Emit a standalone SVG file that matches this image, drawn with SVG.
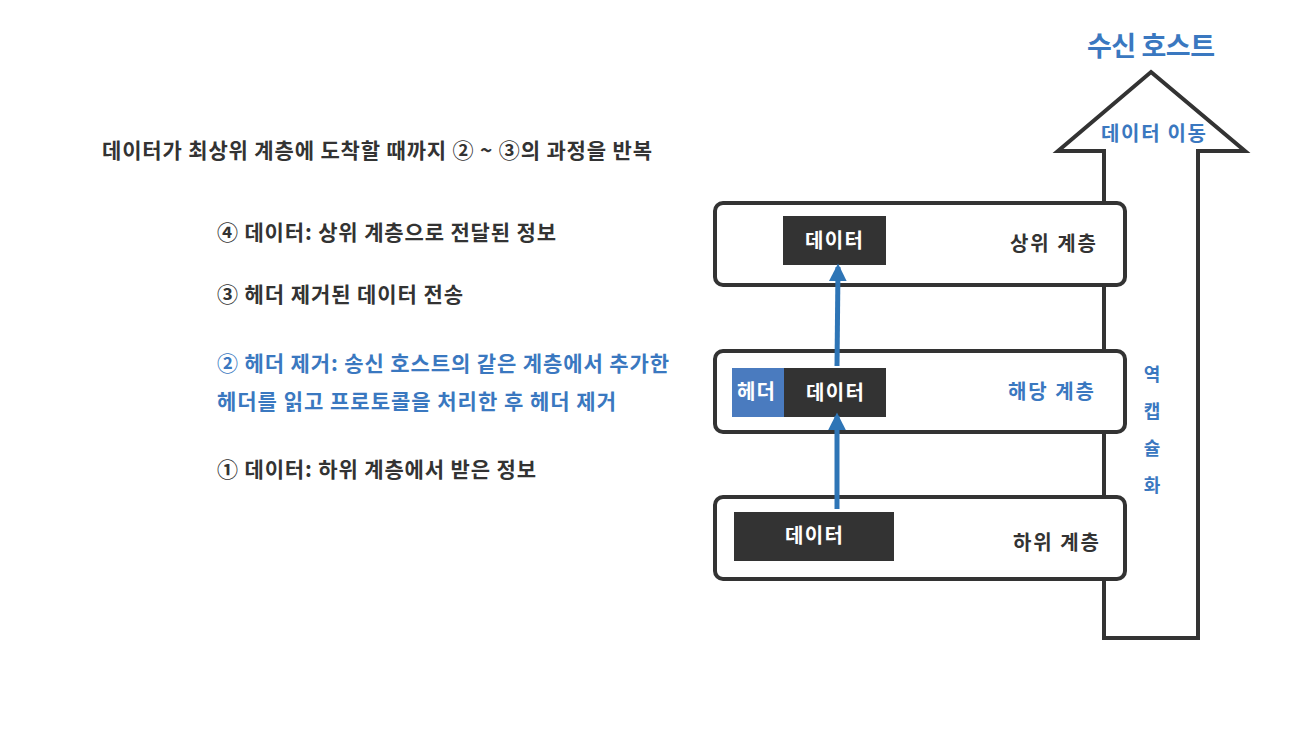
<svg xmlns="http://www.w3.org/2000/svg" width="1293" height="746" viewBox="0 0 1293 746">
<style>
text{font-family:"Noto Sans CJK KR","Noto Sans",sans-serif;font-weight:bold}
.dk{fill:#333333}
.bl{fill:#3a78c0}
.box{fill:#ffffff;stroke:#333333;stroke-width:4}
.w{fill:#ffffff}
.conn{stroke:#2e75b6;stroke-width:5;fill:none}
</style>
<defs>
<marker id="ah" viewBox="0 0 10 10" refX="8" refY="5" markerWidth="3.6" markerHeight="3.6" orient="auto" markerUnits="strokeWidth">
<path d="M0,0 L10,5 L0,10 z" fill="#2e75b6"/>
</marker>
</defs>
<rect width="1293" height="746" fill="#ffffff"/>
<g id="bigarrow">
<polygon points="1151,72 1245,151 1198,151 1198,638 1104,638 1104,151 1058,151" fill="#ffffff" stroke="#333333" stroke-width="4"/>
<text x="1087" y="56" font-size="27" textLength="128" lengthAdjust="spacing" class="bl">수신 호스트</text>
<text x="1101" y="141" font-size="20" textLength="105" lengthAdjust="spacing" class="bl">데이터 이동</text>
<g font-size="18" text-anchor="middle" class="bl">
<text x="1152" y="381">역</text>
<text x="1152" y="418">캡</text>
<text x="1152" y="455">슐</text>
<text x="1152" y="492">화</text>
</g>
</g>
<g id="upper">
<rect x="715" y="203" width="410" height="82" rx="8" class="box"/>
<rect x="783" y="216" width="103" height="49" fill="#333333"/>
<text x="805" y="248" font-size="20" textLength="58" lengthAdjust="spacing" class="w">데이터</text>
<text x="1010" y="251" font-size="20" textLength="86" lengthAdjust="spacing" class="dk">상위 계층</text>
</g>
<g id="current">
<rect x="715" y="351" width="410" height="81" rx="8" class="box"/>
<rect x="732" y="368" width="52" height="49" fill="#4a7bbf"/>
<rect x="784" y="368" width="102" height="49" fill="#333333"/>
<text x="737" y="399" font-size="20" textLength="38" lengthAdjust="spacing" class="w">헤더</text>
<text x="806" y="400" font-size="20" textLength="58" lengthAdjust="spacing" class="w">데이터</text>
<text x="1008" y="399" font-size="20" textLength="86" lengthAdjust="spacing" class="bl">해당 계층</text>
</g>
<g id="lower">
<rect x="715" y="497" width="410" height="82" rx="8" class="box"/>
<rect x="734" y="512" width="160" height="49" fill="#333333"/>
<text x="785" y="543" font-size="20" textLength="58" lengthAdjust="spacing" class="w">데이터</text>
<text x="1013" y="550" font-size="20" textLength="86" lengthAdjust="spacing" class="dk">하위 계층</text>
</g>
<g id="connectors">
<line x1="837" y1="509" x2="837" y2="416" class="conn" marker-end="url(#ah)"/>
<line x1="837" y1="366" x2="838" y2="267" class="conn" marker-end="url(#ah)"/>
</g>
<g id="notes" font-size="21">
<text x="102" y="158" textLength="550" lengthAdjust="spacing" class="dk">데이터가 최상위 계층에 도착할 때까지 ② ~ ③의 과정을 반복</text>
<text x="217" y="240" textLength="339" lengthAdjust="spacing" class="dk">④ 데이터: 상위 계층으로 전달된 정보</text>
<text x="217" y="302" textLength="246" lengthAdjust="spacing" class="dk">③ 헤더 제거된 데이터 전송</text>
<text x="217" y="371" textLength="452" lengthAdjust="spacing" class="bl">② 헤더 제거: 송신 호스트의 같은 계층에서 추가한</text>
<text x="217" y="409" textLength="399" lengthAdjust="spacing" class="bl">헤더를 읽고 프로토콜을 처리한 후 헤더 제거</text>
<text x="217" y="477" textLength="319" lengthAdjust="spacing" class="dk">① 데이터: 하위 계층에서 받은 정보</text>
</g>
</svg>
